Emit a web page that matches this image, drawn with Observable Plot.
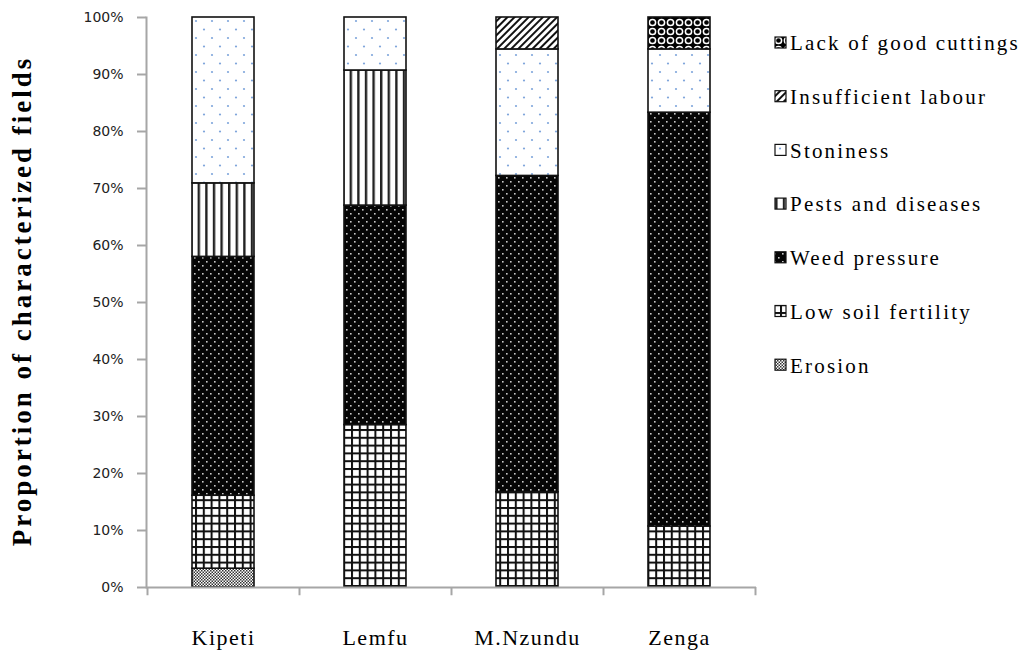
<!DOCTYPE html>
<html>
<head>
<meta charset="utf-8">
<script src="https://cdn.jsdelivr.net/npm/d3@7"></script>
<script src="https://cdn.jsdelivr.net/npm/@observablehq/plot@0.6"></script>
<style>
  html, body { margin: 0; padding: 0; background: #fff; }
  #chart svg { display: block; background: #fff; }
</style>
</head>
<body>
<div id="chart"></div>
<script>
const sites = ["Kipeti", "Lemfu", "M.Nzundu", "Zenga"];
const constraints = ["Erosion", "Low soil fertility", "Weed pressure", "Pests and diseases", "Stoniness", "Insufficient labour", "Lack of good cuttings"];
const erosion = [3.3, 0, 0, 0];
const lowSoilFertility = [12.8, 28.5, 16.7, 10.7];
const weedPressure = [41.9, 38.5, 55.5, 72.6];
const pestsDiseases = [12.9, 23.7, 0, 0];
const stoniness = [29.1, 9.3, 22.2, 11.1];
const insufficientLabour = [0, 0, 5.6, 0];
const lackCuttings = [0, 0, 0, 5.6];
const yTicks = [0, 10, 20, 30, 40, 50, 60, 70, 80, 90, 100];

const series = [erosion, lowSoilFertility, weedPressure, pestsDiseases, stoniness, insufficientLabour, lackCuttings];
const data = [];
constraints.forEach((c, i) => sites.forEach((s, j) => {
  if (series[i][j] > 0) data.push({site: s, constraint: c, value: series[i][j]});
}));
const patIds = constraints.map((_, i) => `pat${i}`);
const axisGray = "#a6a6a6";
const serif = '"Liberation Serif", "Times New Roman", serif';

const chart = Plot.plot({
  width: 1024,
  height: 654,
  marginTop: 17,
  marginBottom: 67,
  marginLeft: 146,
  marginRight: 268,
  x: {domain: sites, paddingInner: 0.593, paddingOuter: 0.2965, label: null},
  y: {domain: [0, 100], label: null},
  color: {domain: constraints, range: patIds.map(id => `url(#${id})`)},
  marks: [
    Plot.barY(data, {x: "site", y: "value", fill: "constraint", stroke: "#111", strokeWidth: 1.6}),
    Plot.ruleY([0], {stroke: axisGray, strokeWidth: 2}),
    Plot.frame({anchor: "left", stroke: axisGray, strokeWidth: 2}),
    Plot.ruleX(sites, {x: d => d, dx: 76, y1: 0, y2: -1.45, stroke: axisGray, strokeWidth: 2}),
    Plot.ruleX([sites[0]], {x: d => d, dx: -76, y1: 0, y2: -1.45, stroke: axisGray, strokeWidth: 2}),
    Plot.axisY(yTicks, {tickSize: 9, tickPadding: 14, tickFormat: d => d + "%", stroke: axisGray, fill: "#222", strokeWidth: 2}),
    Plot.axisX({tickSize: 0, tickPadding: 42, fill: "#000"})
  ]
});
document.getElementById("chart").appendChild(chart);

const svg = d3.select(chart);
const defs = svg.insert("defs", ":first-child");
function pat(id, w, h) {
  return defs.append("pattern").attr("id", id).attr("patternUnits", "userSpaceOnUse").attr("width", w).attr("height", h);
}
// Erosion: fine checker
let p = pat("pat0", 3, 3);
p.append("rect").attr("width", 3).attr("height", 3).attr("fill", "#fff");
p.append("rect").attr("width", 1.5).attr("height", 1.5).attr("fill", "#333");
p.append("rect").attr("x", 1.5).attr("y", 1.5).attr("width", 1.5).attr("height", 1.5).attr("fill", "#333");
// Low soil fertility: grid
p = pat("pat1", 7.8, 7.8);
p.append("rect").attr("width", 7.8).attr("height", 7.8).attr("fill", "#fff");
p.append("rect").attr("width", 7.8).attr("height", 2).attr("fill", "#111");
p.append("rect").attr("width", 2).attr("height", 7.8).attr("fill", "#111");
// Weed pressure: black with light dots
p = pat("pat2", 8, 8);
p.append("rect").attr("width", 8).attr("height", 8).attr("fill", "#050505");
p.append("rect").attr("x", 2).attr("y", 1).attr("width", 1.6).attr("height", 1.6).attr("fill", "#c8c8c8");
p.append("rect").attr("x", 6).attr("y", 5).attr("width", 1.6).attr("height", 1.6).attr("fill", "#c8c8c8");
// Pests and diseases: vertical lines
p = pat("pat3", 7.6, 8);
p.append("rect").attr("width", 7.6).attr("height", 8).attr("fill", "#fff");
p.append("rect").attr("width", 2.4).attr("height", 8).attr("fill", "#222");
// Stoniness: light blue dots
p = pat("pat4", 16, 17);
p.append("rect").attr("width", 16).attr("height", 17).attr("fill", "#fff");
p.append("circle").attr("cx", 4).attr("cy", 4).attr("r", 1.1).attr("fill", "#7fa6dc");
p.append("circle").attr("cx", 12).attr("cy", 12.5).attr("r", 1.1).attr("fill", "#7fa6dc");
// Insufficient labour: diagonal hatch
p = pat("pat5", 5, 5).attr("patternTransform", "rotate(45)");
p.append("rect").attr("width", 5).attr("height", 5).attr("fill", "#fff");
p.append("rect").attr("width", 2).attr("height", 5).attr("fill", "#111");
// Lack of good cuttings: black with white rings
p = pat("pat6", 9, 9);
p.append("rect").attr("width", 9).attr("height", 9).attr("fill", "#000");
p.append("circle").attr("cx", 4.5).attr("cy", 4.5).attr("r", 3.1).attr("fill", "none").attr("stroke", "#fff").attr("stroke-width", 1.5);

// axis label fonts
svg.selectAll('g[aria-label="x-axis tick label"] text')
  .style("font-family", serif).style("font-size", "22px").style("letter-spacing", "1.5px");
svg.selectAll('g[aria-label="y-axis tick label"] text')
  .style("font-family", '"DejaVu Sans", Verdana, sans-serif').style("font-size", "14px");

// Y title
svg.append("text")
  .attr("transform", "translate(31,301) rotate(-90)")
  .style("text-anchor", "middle")
  .style("font-family", serif)
  .style("font-weight", "bold")
  .style("font-size", "27px")
  .style("letter-spacing", "3px")
  .attr("fill", "#000")
  .text("Proportion of characterized fields");

// Legend (top item = top of stack)
const legendItems = constraints.map((c, i) => ({c, i})).reverse();
const lg = svg.append("g").attr("class", "legend");
legendItems.forEach((d, k) => {
  const cy = 43 + k * 53.7;
  lg.append("rect").attr("x", 775).attr("y", cy - 6).attr("width", 11).attr("height", 11)
    .attr("fill", `url(#${patIds[d.i]})`).attr("stroke", "#111").attr("stroke-width", 1.2);
  lg.append("text").attr("x", 790).attr("y", cy).attr("dy", "0.35em")
    .style("text-anchor", "start")
    .style("font-family", serif).style("font-size", "21px")
    .style("letter-spacing", "2.2px").attr("fill", "#000").text(d.c);
});
</script>
</body>
</html>
